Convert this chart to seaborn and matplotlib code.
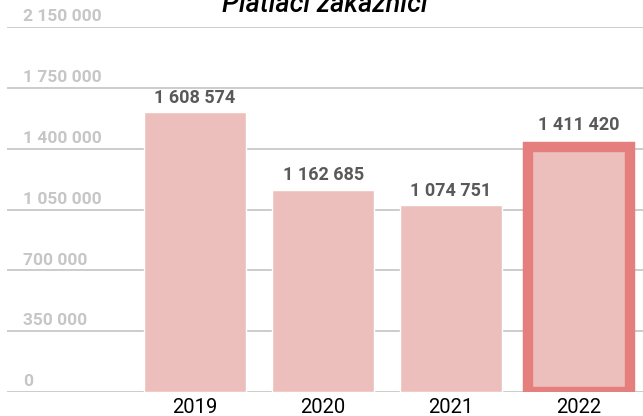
import matplotlib
matplotlib.use("Agg")
import matplotlib.pyplot as plt
import matplotlib.transforms as mtransforms
import seaborn as sns
import pandas as pd

years = ["2019", "2020", "2021", "2022"]
customers = [1608574, 1162685, 1074751, 1411420]
y_ticks = [0, 350000, 700000, 1050000, 1400000, 1750000, 2100000]
y_tick_labels = ["0", "350 000", "700 000", "1 050 000", "1 400 000", "1 750 000", "2 150 000"]
title = "Platiaci zákazníci"

bar_color = "#ecbfbd"
highlight_edge = "#e47f7d"


def fmt(v):
    return f"{v:,}".replace(",", " ")


sns.set_style("white")
plt.rcParams["font.family"] = ["Roboto", "DejaVu Sans"]

df = pd.DataFrame({"year": years, "customers": customers})

fig = plt.figure(figsize=(6.43, 4.16), dpi=100)
ax = fig.add_axes([7 / 643, 24 / 416, 636 / 643, 365 / 416])

sns.barplot(data=df, x="year", y="customers", color=bar_color, saturation=1,
            width=0.8, ax=ax)

# highlight last year
last = ax.patches[len(years) - 1]
last.set_edgecolor(highlight_edge)
last.set_linewidth(7.5)

ax.set_xlim(-1.47, 3.5)
ax.set_ylim(0, y_ticks[-1])
ax.set_yticks(y_ticks)
ax.set_yticklabels([])
ax.tick_params(axis="y", length=0)
ax.tick_params(axis="x", length=0, pad=4, labelsize=14.5, labelcolor="black")
ax.yaxis.grid(True, color="#cccccc", linewidth=1.4)
ax.set_axisbelow(True)
for s in ax.spines.values():
    s.set_visible(False)
ax.set_xlabel("")
ax.set_ylabel("")

# y labels sit above the gridlines
trans = mtransforms.blended_transform_factory(ax.transAxes, ax.transData)
for v, lab in zip(y_ticks, y_tick_labels):
    ax.annotate(lab, xy=(16 / 636, v), xycoords=trans, xytext=(0, 2),
                textcoords="offset points", ha="left", va="bottom",
                fontsize=12.5, fontweight="bold", color="#c6c6c6")

# value labels
for i, (p, v) in enumerate(zip(ax.patches, customers)):
    off = 9 if i == len(years) - 1 else 4
    ax.annotate(fmt(v), xy=(p.get_x() + p.get_width() / 2, v),
                xytext=(0, off), textcoords="offset points",
                ha="center", va="bottom", fontsize=13, fontweight="bold",
                color="#595959")

fig.text(0.505, 1 - 12 / 416, title, ha="center", va="baseline",
         fontsize=19.5, style="italic", fontweight="medium", color="black")

fig.savefig("out.png", dpi=100)
